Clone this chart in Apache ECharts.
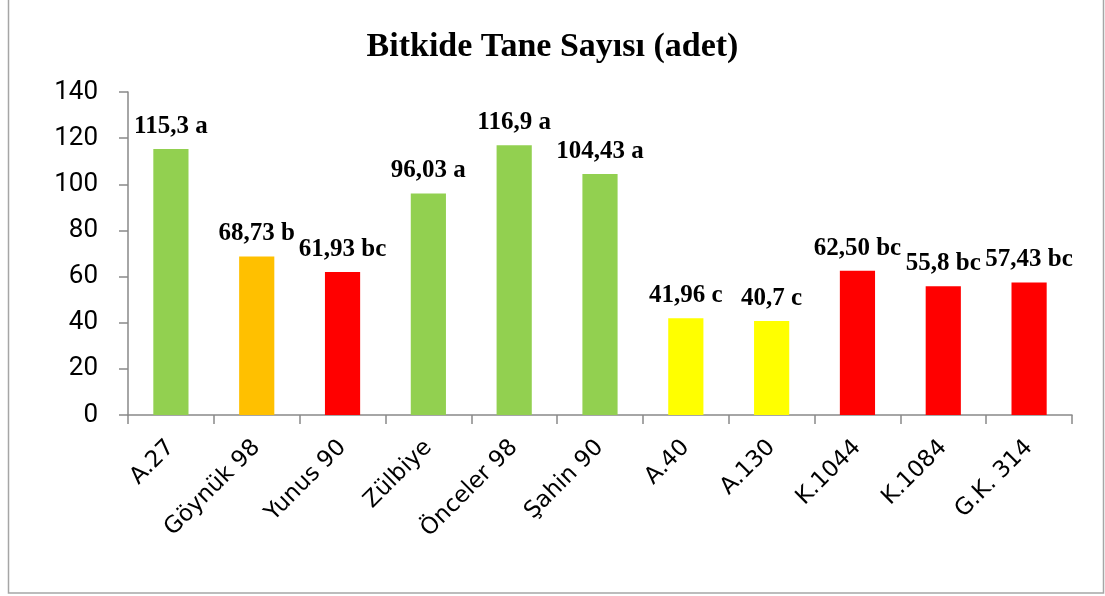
<!DOCTYPE html>
<html>
<head>
<meta charset="utf-8">
<script src="https://cdn.jsdelivr.net/npm/echarts@6/dist/echarts.min.js"></script>
<style>
  html, body { margin: 0; padding: 0; background: #fff; }
  #main { width: 1105px; height: 596px; }
</style>
</head>
<body>
<div id="main"></div>
<script>
// cultivar names
const categories = ['A.27', 'Göynük 98', 'Yunus 90', 'Zülbiye', 'Önceler 98', 'Şahin 90',
  'A.40', 'A.130', 'K.1044', 'K.1084', 'G.K. 314'];
// grains per plant
const values = [115.3, 68.73, 61.93, 96.03, 116.9, 104.43, 41.96, 40.7, 62.50, 55.8, 57.43];
// printed value text and significance group
const valueText = ['115,3', '68,73', '61,93', '96,03', '116,9', '104,43', '41,96', '40,7', '62,50', '55,8', '57,43'];
const groups = ['a', 'b', 'bc', 'a', 'a', 'a', 'c', 'c', 'bc', 'bc', 'bc'];
const barColors = ['#92D050', '#FFC000', '#FF0000', '#92D050', '#92D050', '#92D050',
  '#FFFF00', '#FFFF00', '#FF0000', '#FF0000', '#FF0000'];

const chart = echarts.init(document.getElementById('main'));

chart.setOption({
  animation: false,
  backgroundColor: '#fff',
  title: {
    text: 'Bitkide Tane Sayısı (adet)',
    left: 'center',
    top: 25,
    textStyle: {
      fontFamily: 'Liberation Serif',
      fontWeight: 'bold',
      fontSize: 34,
      color: '#000'
    }
  },
  graphic: [{
    type: 'rect',
    shape: { x: 8.5, y: -2, width: 1095, height: 595 },
    style: { fill: 'none', stroke: '#a6a6a6', lineWidth: 1.5 }
  }],
  grid: { left: 128, right: 33, top: 92, bottom: 181 },
  xAxis: {
    type: 'category',
    data: categories,
    axisLine: { lineStyle: { color: '#898989', width: 1.5 } },
    axisTick: { show: true, length: 9, lineStyle: { color: '#898989', width: 1.5 } },
    axisLabel: {
      rotate: 45,
      margin: 29,
      fontFamily: 'DejaVu Sans',
      fontSize: 23,
      color: '#000'
    }
  },
  yAxis: {
    type: 'value',
    min: 0,
    max: 140,
    interval: 20,
    splitLine: { show: false },
    axisLine: { show: true, lineStyle: { color: '#898989', width: 1.5 } },
    axisTick: { show: true, length: 9, lineStyle: { color: '#898989', width: 1.5 } },
    axisLabel: {
      margin: 30,
      fontFamily: 'Roboto',
      fontSize: 26,
      color: '#000'
    }
  },
  series: [{
    type: 'bar',
    barWidth: '41%',
    data: values.map((v, i) => ({ value: v, itemStyle: { color: barColors[i] } })),
    label: {
      show: true,
      position: 'top',
      distance: 10,
      fontFamily: 'Liberation Serif',
      fontWeight: 'bold',
      fontSize: 25,
      color: '#000',
      formatter: p => valueText[p.dataIndex] + ' ' + groups[p.dataIndex]
    }
  }]
});
</script>
</body>
</html>
